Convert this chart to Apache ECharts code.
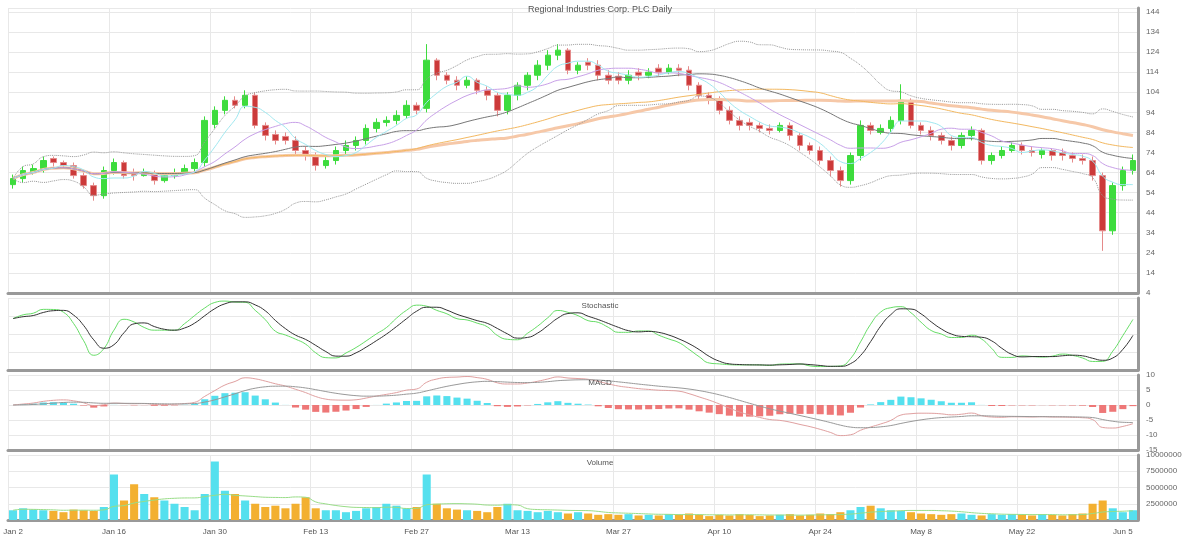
<!DOCTYPE html><html><head><meta charset="utf-8"><script src="https://cdn.jsdelivr.net/npm/echarts@6/dist/echarts.min.js"></script>
<style>html,body{margin:0;background:#fff}#c{width:1200px;height:543px}</style></head><body><div id="c"></div><script>
const opens=[58,61,64,66,71,69,67.5,62.5,57.5,52.5,65,69,64,62.5,64,60,62.5,64,66,69,88,95,100,97.5,102.5,87.5,83,82,80,75,72.5,67.5,70,75,77.5,80,86,89,90,92.5,97.5,96,120,112.5,110,107.5,110,105,102.5,95,102.5,107.5,112.5,117.5,122.5,125,115,119,117.5,112.5,112,110,114,112.5,116,114,116,115,107.5,102.5,100,95,90,89,87.5,86,85,87.5,82.5,77.5,75,70,65,60,72.5,87.5,84,86,90,100,87.5,85,82.5,80,77.5,82.5,85,70,72.5,75,77.5,75,73,75,74,72.5,71,70,62.5,35,57.5,65];
const closes=[61,65,66,70,69,67.5,62.5,57.5,52.5,65,69,62.5,62.5,64,60,62.5,64,66,69,90,95,100,97.5,102.5,87.5,82.5,80,80,75,72.5,67.5,70,75,77.5,80,86,89,90,92.5,97.5,95,120,112.5,110,107.5,110,105,102.5,95,102.5,107.5,112.5,117.5,122.5,125,115,117.5,117.5,112.5,110,110,112.5,112.5,114,114,116,115,107.5,102.5,100,95,90,87.5,87.5,86,85,87.5,82.5,77.5,75,70,65,60,72.5,87.5,85,86,90,100,87.5,85,82.5,80,77.5,82.5,85,70,72.5,75,77.5,75,74,75,72.5,72.5,71,70,62.5,35,57.5,65,70];
const highs=[63,67,68,72,72,70,69,64,59,67,71,70,66,66,65,64,66,68,71,92,97,102,102,105,104,89,85,84,82,77,74,72,77,80,82,88,91,92,95,100,99,128,121,114,112,112,111,107,104,104,109,114,120,125,128,126,119,121,120,115,114,115,116,116,118,118,118,117,109,104,102,97,92,91,89,88,89,89,84,79,77,72,67,74,90,89,88,92,108,101,89,87,84,82,84,87,86,74,77,79,79,77,76,76,76,74,73,72,64,59,67,73];
const lows=[56,59,63,64,67,66,61,56,50,51,63,61,60,62,58,59,61,63,64,67,86,93,96,96,86,80,78,78,73,70,65,66,68,73,75,78,84,87,88,91,93,94,110,108,105,106,103,100,92,93,100,105,110,115,120,113,113,115,110,108,108,108,110,111,112,113,112,105,100,98,93,88,85,85,84,83,84,80,75,73,68,62,57,58,70,83,83,84,88,86,83,80,78,75,76,80,68,68,71,74,73,72,71,70,70,69,68,60,25,33,55,63];
const volumes=[15,18,16,15,14,12,16,15,14,20,70,30,55,40,35,30,25,20,15,40,90,45,40,30,25,20,22,18,25,35,18,15,15,12,14,18,20,25,22,18,20,70,25,18,16,15,14,12,20,25,15,14,12,14,12,10,12,10,8,9,8,9,7,8,7,9,8,10,8,6,8,7,9,8,6,7,8,9,7,8,10,9,12,15,20,22,18,15,14,12,10,9,8,9,10,8,7,9,8,9,8,7,9,8,7,9,10,25,30,18,12,15];
const monthLabels=['Jan','Feb','Mar','Apr','May','Jun','Jul','Aug','Sep','Oct','Nov','Dec'];
const N=closes.length;
const cats=[];{let d=new Date(2023,0,2);for(let i=0;i<N;i++){cats.push(monthLabels[d.getMonth()]+' '+d.getDate());d.setDate(d.getDate()+(d.getDay()==5?3:1));}}
const ohlc=closes.map((c,i)=>[opens[i],c,lows[i],highs[i]]);
function ma(a,n){return a.map((v,i)=>{const s=a.slice(Math.max(0,i-n+1),i+1);return +(s.reduce((x,y)=>x+y,0)/s.length).toFixed(2);});}
function ema(a,n){const k=2/(n+1);let e=a[0];return a.map(v=>e=v*k+e*(1-k));}
const m20=ma(closes,20);
const sd=closes.map((v,i)=>{const s=closes.slice(Math.max(0,i-19),i+1);const m=m20[i];return Math.sqrt(s.reduce((x,y)=>x+(y-m)*(y-m),0)/s.length);});
const bbU=m20.map((m,i)=>+(m+2*sd[i]).toFixed(2)), bbL=m20.map((m,i)=>+(m-2*sd[i]).toFixed(2));
const kRaw=closes.map((c,i)=>{const h=Math.max(...highs.slice(Math.max(0,i-13),i+1)),l=Math.min(...lows.slice(Math.max(0,i-13),i+1));return h==l?50:100*(c-l)/(h-l);});
const kS=ma(kRaw,3), dS=ma(kS,3);
const e12=ema(closes,12),e26=ema(closes,26);const macd=e12.map((v,i)=>v-e26[i]);const sig=ema(macd,9);const hist=macd.map((v,i)=>v-sig[i]);
const vma=ma(volumes,10);
const L=8,R=62;
const grids=[{left:L,right:R,top:8,height:285},{left:L,right:R,top:298,height:72},{left:L,right:R,top:375,height:75},{left:L,right:R,top:455,height:65}];
const xa=grids.map((g,i)=>({type:'category',gridIndex:i,data:cats,boundaryGap:true,axisLine:{onZero:false,lineStyle:{color:'#999',width:3}},axisTick:{show:false},
 axisLabel:{show:i==3,fontSize:8,color:'#555',interval:9},splitLine:{show:true,interval:9,lineStyle:{color:'#e8e8e8'}}}));
const ya=[
 {gridIndex:0,min:4,max:146,interval:10,position:'right',axisLine:{show:true,lineStyle:{color:'#999',width:3}},axisLabel:{fontSize:8,color:'#666'},splitLine:{lineStyle:{color:'#e8e8e8'}}},
 {gridIndex:1,min:0,max:100,interval:25,position:'right',axisLine:{show:true,lineStyle:{color:'#999',width:3}},axisLabel:{show:false},splitLine:{lineStyle:{color:'#e8e8e8'}}},
 {gridIndex:2,scale:true,position:'right',splitNumber:3,axisLine:{show:true,lineStyle:{color:'#999',width:3}},axisLabel:{fontSize:8,color:'#666'},splitLine:{lineStyle:{color:'#e8e8e8'}}},
 {gridIndex:3,min:0,max:100,interval:25,position:'right',axisLine:{show:true,lineStyle:{color:'#999',width:3}},axisLabel:{fontSize:8,color:'#666',formatter:v=>v?v*100000:''},splitLine:{lineStyle:{color:'#e8e8e8'}}}];
const line=(d,c,w,xi,extra)=>Object.assign({type:'line',data:d,xAxisIndex:xi,yAxisIndex:xi,showSymbol:false,smooth:true,lineStyle:{color:c,width:w},silent:true},extra||{});
const opt={animation:false,backgroundColor:'#fff',
 title:[{text:'Regional Industries Corp. PLC Daily',left:'center',top:0,textStyle:{fontSize:9,color:'#555',fontWeight:'normal'}},
  {text:'Stochastic',left:'center',top:297,textStyle:{fontSize:8,color:'#555',fontWeight:'normal'}},
  {text:'MACD',left:'center',top:374,textStyle:{fontSize:8,color:'#555',fontWeight:'normal'}},
  {text:'Volume',left:'center',top:454,textStyle:{fontSize:8,color:'#555',fontWeight:'normal'}}],
 grid:grids,xAxis:xa,yAxis:ya,
 series:[
  {type:'candlestick',data:ohlc,barWidth:'60%',itemStyle:{color:'#3ddc3d',color0:'#cc3a3a',borderColor:'#3ddc3d',borderColor0:'#e58a8a'}},
  line(ma(closes,50),'#f6c8a8',3,0),line(ma(closes,40),'#f3b860',1,0),line(m20,'#777',1,0),line(ma(closes,10),'#c8a0e8',1,0),line(ma(closes,5),'#9fe8f0',1,0),
  line(bbU,'#999',1,0,{lineStyle:{color:'#999',width:1,type:'dotted'}}),line(bbL,'#999',1,0,{lineStyle:{color:'#999',width:1,type:'dotted'}}),
  line(kS,'#66dd66',1,1),line(dS,'#333',1,1),
  {type:'bar',data:hist.map(v=>({value:+v.toFixed(2),itemStyle:{color:v>=0?'#55e0ee':'#ee7777'}})),xAxisIndex:2,yAxisIndex:2,barWidth:'70%'},
  line(macd.map(v=>+v.toFixed(2)),'#e0a0a0',1,2),line(sig.map(v=>+v.toFixed(2)),'#999',1,2),
  {type:'bar',data:volumes.map((v,i)=>({value:v,itemStyle:{color:closes[i]>=opens[i]?'#55e0ee':'#f3b030'}})),xAxisIndex:3,yAxisIndex:3,barWidth:'80%'},
  line(vma,'#99dd88',1,3)
 ]};
echarts.init(document.getElementById('c')).setOption(opt);
</script></body></html>
